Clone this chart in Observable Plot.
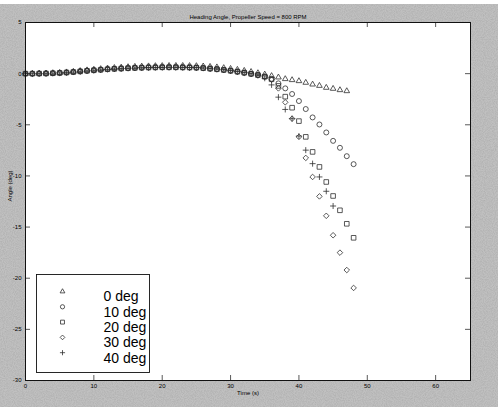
<!DOCTYPE html>
<html><head><meta charset="utf-8">
<script src="https://cdn.jsdelivr.net/npm/d3@7"></script>
<script src="https://cdn.jsdelivr.net/npm/@observablehq/plot@0.6"></script>
<style>
html,body{margin:0;padding:0;background:#fff;}
#wrap{position:relative;width:498px;height:412px;overflow:hidden;background:#fff;}
#bg{position:absolute;left:0;top:4px;width:498px;height:403px;background:#c0c0c0;}
#noise{position:absolute;left:0;top:4px;}
#chart{position:absolute;left:0;top:0;}
</style></head><body>
<div id="wrap">
<div id="bg"></div>
<svg id="noise" width="498" height="403"><filter id="nf"><feTurbulence type="fractalNoise" baseFrequency="0.9" numOctaves="2" seed="3"/><feColorMatrix type="matrix" values="0 0 0 0 0.35  0 0 0 0 0.35  0 0 0 0 0.35  0 0 0 -1.6 1.05"/></filter><rect width="498" height="403" filter="url(#nf)" opacity="0.6"/></svg>
<div id="chart"></div>
</div>
<script>
const titleText = "Heading Angle, Propeller Speed = 800 RPM";
const xLabel = "Time (s)";
const yLabel = "Angle (deg)";
const xTicks = [0, 10, 20, 30, 40, 50, 60];
const yTicks = [5, 0, -5, -10, -15, -20, -25, -30];
const legendLabels = ["0 deg", "10 deg", "20 deg", "30 deg", "40 deg"];
const legendSymbols = ["triangle2", "circle", "square", "diamond2", "plus"];

const times = [0,1,2,3,4,5,6,7,8,9,10,11,12,13,14,15,16,17,18,19,20,21,22,23,24,25,26,27,28,29,30,31,32,33,34,35,36,37,38,39,40,41,42,43,44,45,46,47,48];

const deg0 = [0,0,0.02,0.03,0.06,0.09,0.14,0.2,0.27,0.34,0.4,0.46,0.52,0.57,0.61,0.65,0.68,0.71,0.73,0.75,0.76,0.77,0.77,0.77,0.76,0.75,0.72,0.68,0.63,0.56,0.48,0.39,0.29,0.18,0.06,-0.07,-0.22,-0.36,-0.52,-0.62,-0.72,-0.88,-1.05,-1.18,-1.37,-1.47,-1.6,-1.7];
const deg10 = [0,0,0.01,0.02,0.04,0.07,0.11,0.16,0.22,0.28,0.33,0.38,0.43,0.47,0.5,0.53,0.56,0.58,0.6,0.61,0.62,0.62,0.62,0.61,0.6,0.58,0.54,0.49,0.43,0.36,0.28,0.19,0.09,-0.02,-0.14,-0.27,-0.5,-0.95,-1.44,-1.99,-2.68,-3.46,-4.28,-4.97,-5.75,-6.57,-7.25,-8.07,-8.85];
const deg20 = [0,0,0.01,0.02,0.04,0.07,0.11,0.16,0.22,0.28,0.33,0.38,0.43,0.47,0.5,0.53,0.56,0.58,0.6,0.61,0.62,0.62,0.62,0.61,0.6,0.58,0.54,0.49,0.43,0.36,0.28,0.19,0.09,-0.02,-0.14,-0.3,-0.55,-1.2,-2.25,-3.33,-4.64,-6.18,-7.65,-9.12,-10.59,-11.96,-13.36,-14.68,-16.05];
const deg30 = [0,0,0.01,0.02,0.04,0.07,0.11,0.16,0.22,0.28,0.33,0.38,0.43,0.47,0.5,0.53,0.56,0.58,0.6,0.61,0.62,0.62,0.62,0.61,0.6,0.58,0.54,0.49,0.43,0.36,0.28,0.19,0.09,-0.02,-0.15,-0.32,-0.6,-1.44,-2.8,-4.4,-6.18,-8.24,-10.1,-12.0,-13.9,-15.8,-17.5,-19.2,-20.95];
const deg40 = [0,0,0.01,0.02,0.04,0.07,0.11,0.16,0.22,0.28,0.33,0.38,0.43,0.47,0.5,0.53,0.56,0.58,0.6,0.61,0.62,0.62,0.62,0.61,0.6,0.58,0.54,0.49,0.43,0.36,0.28,0.19,0.09,-0.03,-0.18,-0.45,-1.1,-2.3,-3.5,-4.4,-6.1,-7.48,-8.8,-10.1,-11.5,-12.94];

const seriesValues = [deg0, deg10, deg20, deg30, deg40];
const font = "Arial, 'Liberation Sans', sans-serif";
const ink = "#2e2e2e";
const symbolR = [2.7, 2.5, 2.6, 2.5, 2.1];

const rowsOf = vals => vals.map((v, i) => ({t: times[i], v}));

const W = 498, H = 412;
const mL = 25, mR = 28, mT = 22, mB = 32;
const fw = W - mL - mR, fh = H - mT - mB;
const tickLen = 5;

const legendX = 37, legendTop = 269, legendStep = 15.3;

const marks = [
  Plot.frame({fill: "white", stroke: "none"}),
  Plot.tickX(xTicks, {x: d => d, insetTop: fh - tickLen, stroke: ink, strokeWidth: 0.8}),
  Plot.tickX(xTicks, {x: d => d, insetBottom: fh - tickLen, stroke: ink, strokeWidth: 0.8}),
  Plot.tickY(yTicks, {y: d => d, insetRight: fw - tickLen, stroke: ink, strokeWidth: 0.8}),
  Plot.tickY(yTicks, {y: d => d, insetLeft: fw - tickLen, stroke: ink, strokeWidth: 0.8}),
  Plot.axisX(xTicks, {tickSize: 0, tickPadding: 3, fontSize: 6, fontFamily: font, fill: "#000", label: null, tickFormat: d => String(d)}),
  Plot.axisY(yTicks, {tickSize: 0, tickPadding: 4, fontSize: 6, fontFamily: font, fill: "#000", label: null, tickFormat: d => String(d)}),
  Plot.text([titleText], {frameAnchor: "top", dy: -8, fontSize: 6, fontFamily: font, fill: "#000"}),
  Plot.text([xLabel], {frameAnchor: "bottom", dy: 14, fontSize: 6, fontFamily: font, fill: "#000"}),
  Plot.text([yLabel], {frameAnchor: "left", dx: -15, rotate: -90, fontSize: 6, fontFamily: font, fill: "#000"}),
];

seriesValues.forEach((vals, k) => {
  marks.push(Plot.dot(rowsOf(vals), {x: "t", y: "v", symbol: legendSymbols[k], r: symbolR[k], fill: "none", stroke: ink, strokeWidth: 0.8}));
});

marks.push(Plot.frame({insetLeft: 11, insetRight: fw - 124, insetTop: 252, insetBottom: 8, fill: "white", stroke: "#111", strokeWidth: 0.9}));
legendLabels.forEach((lab, i) => {
  marks.push(Plot.dot([lab], {frameAnchor: "top-left", dx: legendX, dy: legendTop + legendStep * i, symbol: legendSymbols[i], r: symbolR[i] * 0.85, fill: "none", stroke: ink, strokeWidth: 0.8}));
  marks.push(Plot.text([lab], {frameAnchor: "top-left", dx: 78, dy: legendTop + legendStep * i, text: d => d, textAnchor: "start", fontSize: 14, fontFamily: font, fill: "#000"}));
});

marks.push(Plot.frame({stroke: "#111", strokeWidth: 1}));

const chart = Plot.plot({
  width: W, height: H,
  marginLeft: mL, marginRight: mR, marginTop: mT, marginBottom: mB,
  x: {domain: [0, 65.1]},
  y: {domain: [-30, 5]},
  style: {background: "transparent", overflow: "visible"},
  marks
});
document.getElementById("chart").appendChild(chart);
</script>
</body></html>
